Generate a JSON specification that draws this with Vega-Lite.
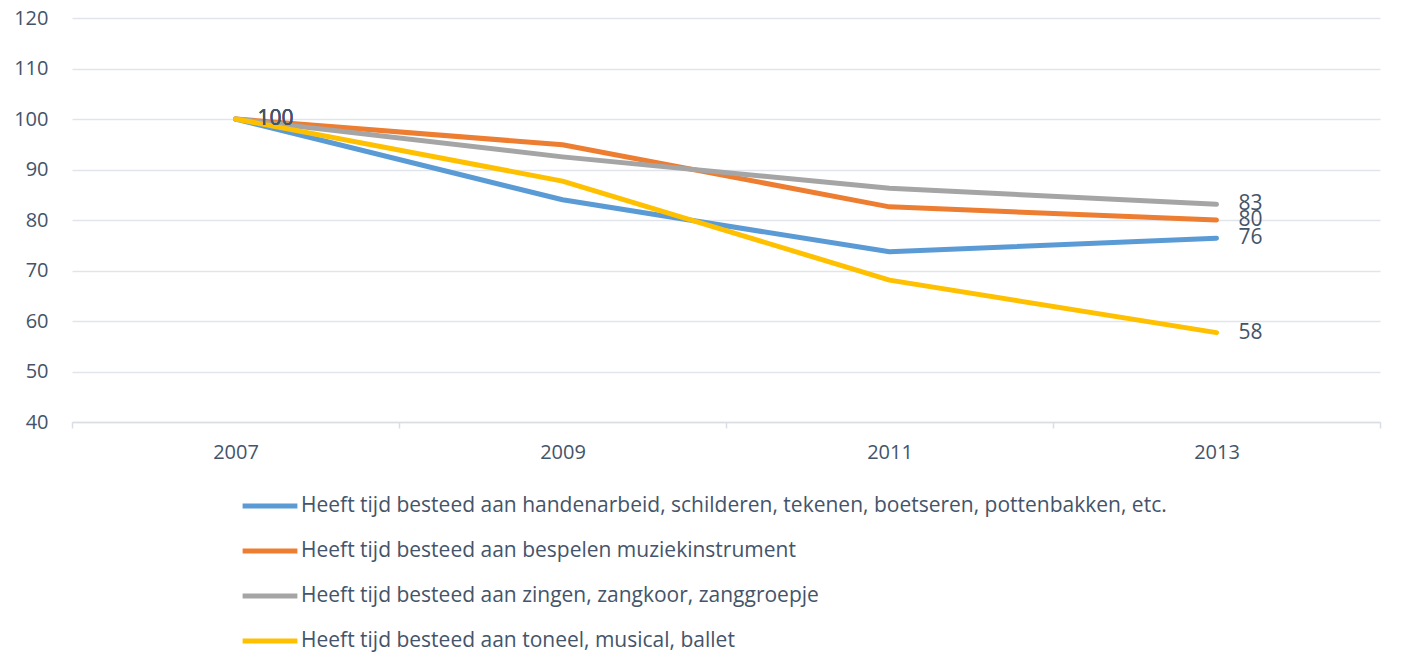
{
  "$schema": "https://vega.github.io/schema/vega-lite/v6.json",
  "width": 1308,
  "height": 404,
  "autosize": {"type": "none"},
  "padding": {"left": 72, "top": 18, "right": 28, "bottom": 249},
  "background": "white",
  "config": {
    "view": {"stroke": null},
    "font": "Open Sans",
    "axis": {"labelFont": "Open Sans", "labelColor": "#44546A", "labelFontSize": 20},
    "legend": {"labelFont": "Open Sans"}
  },
  "data": {
    "values": [
      {"jaar": "2007", "serie": "Heeft tijd besteed aan handenarbeid, schilderen, tekenen, boetseren, pottenbakken, etc.", "waarde": 100},
      {"jaar": "2009", "serie": "Heeft tijd besteed aan handenarbeid, schilderen, tekenen, boetseren, pottenbakken, etc.", "waarde": 84.0},
      {"jaar": "2011", "serie": "Heeft tijd besteed aan handenarbeid, schilderen, tekenen, boetseren, pottenbakken, etc.", "waarde": 73.7},
      {"jaar": "2013", "serie": "Heeft tijd besteed aan handenarbeid, schilderen, tekenen, boetseren, pottenbakken, etc.", "waarde": 76.4},
      {"jaar": "2007", "serie": "Heeft tijd besteed aan bespelen muziekinstrument", "waarde": 100},
      {"jaar": "2009", "serie": "Heeft tijd besteed aan bespelen muziekinstrument", "waarde": 94.9},
      {"jaar": "2011", "serie": "Heeft tijd besteed aan bespelen muziekinstrument", "waarde": 82.6},
      {"jaar": "2013", "serie": "Heeft tijd besteed aan bespelen muziekinstrument", "waarde": 80.0},
      {"jaar": "2007", "serie": "Heeft tijd besteed aan zingen, zangkoor, zanggroepje", "waarde": 100},
      {"jaar": "2009", "serie": "Heeft tijd besteed aan zingen, zangkoor, zanggroepje", "waarde": 92.5},
      {"jaar": "2011", "serie": "Heeft tijd besteed aan zingen, zangkoor, zanggroepje", "waarde": 86.3},
      {"jaar": "2013", "serie": "Heeft tijd besteed aan zingen, zangkoor, zanggroepje", "waarde": 83.1},
      {"jaar": "2007", "serie": "Heeft tijd besteed aan toneel, musical, ballet", "waarde": 100},
      {"jaar": "2009", "serie": "Heeft tijd besteed aan toneel, musical, ballet", "waarde": 87.7},
      {"jaar": "2011", "serie": "Heeft tijd besteed aan toneel, musical, ballet", "waarde": 68.1},
      {"jaar": "2013", "serie": "Heeft tijd besteed aan toneel, musical, ballet", "waarde": 57.7}
    ]
  },
  "encoding": {
    "x": {
      "field": "jaar", "type": "nominal",
      "scale": {"paddingInner": 0, "paddingOuter": 0},
      "axis": {
        "title": null, "labelAngle": 0, "grid": false,
        "domainColor": "#D9DEE5", "domainWidth": 1.5,
        "ticks": true, "tickBand": "extent", "tickColor": "#D9DEE5", "tickSize": 6, "tickWidth": 1.5,
        "labelPadding": 14
      }
    },
    "y": {
      "field": "waarde", "type": "quantitative",
      "scale": {"domain": [40, 120], "nice": false, "zero": false},
      "axis": {
        "title": null, "values": [40, 50, 60, 70, 80, 90, 100, 110, 120],
        "domain": false, "ticks": false, "labelPadding": 24,
        "gridColor": "#E1E5EB", "gridWidth": 1.5
      }
    }
  },
  "layer": [
    {
      "mark": {"type": "line", "strokeWidth": 5, "strokeCap": "round", "strokeJoin": "round"},
      "encoding": {
        "color": {
          "field": "serie", "type": "nominal",
          "scale": {
            "domain": [
              "Heeft tijd besteed aan handenarbeid, schilderen, tekenen, boetseren, pottenbakken, etc.",
              "Heeft tijd besteed aan bespelen muziekinstrument",
              "Heeft tijd besteed aan zingen, zangkoor, zanggroepje",
              "Heeft tijd besteed aan toneel, musical, ballet"
            ],
            "range": ["#5B9BD5", "#ED7D31", "#A5A5A5", "#FFC000"]
          },
          "legend": {
            "title": null, "orient": "none", "direction": "vertical",
            "legendX": 168, "legendY": 458,
            "symbolType": "stroke", "symbolSize": 3000, "symbolStrokeWidth": 5,
            "labelFontSize": 21, "labelColor": "#44546A", "labelOffset": 1,
            "labelLimit": 1200, "rowPadding": 5
          }
        }
      }
    },
    {
      "transform": [{"filter": "datum.jaar == '2007' || datum.jaar == '2013'"}],
      "mark": {"type": "text", "align": "left", "baseline": "middle", "dx": 22, "fontSize": 21, "color": "#44546A"},
      "encoding": {
        "text": {"field": "waarde", "type": "quantitative", "format": ".0f"}
      }
    }
  ]
}
